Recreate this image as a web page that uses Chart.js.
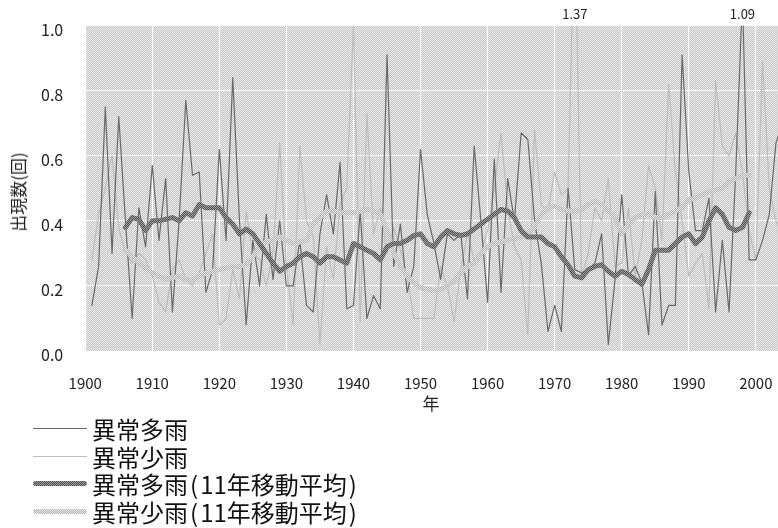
<!DOCTYPE html>
<html lang="ja">
<head>
<meta charset="utf-8">
<script src="https://cdn.jsdelivr.net/npm/chart.js@4/dist/chart.umd.min.js"></script>
<style>
  body { margin: 0; background: #fff; font-family: "Noto Sans CJK JP", sans-serif; }
  #wrap { position: relative; width: 778px; height: 528px; overflow: hidden; }
  #chartBox { position: absolute; left: 0; top: -6px; width: 778px; height: 427px; }
  #legend { position: absolute; left: 33px; top: 415px; font-size: 24px; color: #111; }
  .row { display: flex; align-items: center; height: 27.5px; white-space: nowrap; }
  .swatch { width: 54px; margin-right: 5px; }
  .thin { height: 1px; }
  .thick { height: 5px; border-radius: 3px; }
  .paren { margin: 0 2px; }
  .axisTitle { position: absolute; font-size: 17px; line-height: 20px; color: #222; white-space: nowrap; transform: translate(-50%, -50%); }
  #yTitle { left: 18px; top: 192px; transform: translate(-50%, -50%) rotate(-90deg); }
  #xTitle { left: 431px; top: 403px; }
</style>
</head>
<body>
<div id="wrap">
  <div id="chartBox"><canvas id="rainChart"></canvas></div>
  <div class="axisTitle" id="yTitle">出現数(回)</div>
  <div class="axisTitle" id="xTitle">年</div>
  <div id="legend">
    <div class="row"><div class="swatch thin" style="background:#6a6a6a"></div>異常多雨</div>
    <div class="row"><div class="swatch thin" style="background:#bdbdbd"></div>異常少雨</div>
    <div class="row"><div class="swatch thick" style="background:repeating-conic-gradient(#555 0 25%, #999 0 50%) 0 0/2px 2px"></div>異常多雨<span class="paren">(</span>11年移動平均<span class="paren">)</span></div>
    <div class="row"><div class="swatch thick" style="background:repeating-conic-gradient(#b8b8b8 0 25%, #e4e4e4 0 50%) 0 0/2px 2px"></div>異常少雨<span class="paren">(</span>11年移動平均<span class="paren">)</span></div>
  </div>
</div>
<script>
const years = [
    1901, 1902, 1903, 1904, 1905, 1906, 1907, 1908, 1909, 1910,
    1911, 1912, 1913, 1914, 1915, 1916, 1917, 1918, 1919, 1920,
    1921, 1922, 1923, 1924, 1925, 1926, 1927, 1928, 1929, 1930,
    1931, 1932, 1933, 1934, 1935, 1936, 1937, 1938, 1939, 1940,
    1941, 1942, 1943, 1944, 1945, 1946, 1947, 1948, 1949, 1950,
    1951, 1952, 1953, 1954, 1955, 1956, 1957, 1958, 1959, 1960,
    1961, 1962, 1963, 1964, 1965, 1966, 1967, 1968, 1969, 1970,
    1971, 1972, 1973, 1974, 1975, 1976, 1977, 1978, 1979, 1980,
    1981, 1982, 1983, 1984, 1985, 1986, 1987, 1988, 1989, 1990,
    1991, 1992, 1993, 1994, 1995, 1996, 1997, 1998, 1999, 2000,
    2001, 2002, 2003, 2004
];

// 異常多雨 (annual count)
const heavyRain = [
    0.14, 0.26, 0.75, 0.30, 0.72, 0.40, 0.10, 0.44, 0.32, 0.57,
    0.34, 0.53, 0.12, 0.40, 0.77, 0.54, 0.55, 0.18, 0.25, 0.62,
    0.34, 0.84, 0.40, 0.08, 0.34, 0.20, 0.42, 0.22, 0.40, 0.20,
    0.20, 0.34, 0.14, 0.12, 0.36, 0.48, 0.36, 0.58, 0.13, 0.14,
    0.43, 0.10, 0.17, 0.13, 0.91, 0.26, 0.39, 0.18, 0.26, 0.62,
    0.42, 0.33, 0.22, 0.36, 0.34, 0.36, 0.16, 0.63, 0.40, 0.15,
    0.59, 0.18, 0.53, 0.40, 0.67, 0.65, 0.40, 0.27, 0.06, 0.14,
    0.06, 0.50, 0.25, 0.24, 0.25, 0.27, 0.36, 0.02, 0.22, 0.48,
    0.23, 0.26, 0.21, 0.05, 0.49, 0.08, 0.14, 0.14, 0.91, 0.55,
    0.37, 0.37, 0.47, 0.12, 0.34, 0.12, 0.55, 1.09, 0.28, 0.28,
    0.34, 0.42, 0.64, 0.70
];

// 異常少雨 (annual count)
const lightRain = [
    0.28, 0.42, 0.50, 0.60, 0.38, 0.30, 0.27, 0.30, 0.28, 0.23,
    0.15, 0.12, 0.25, 0.28, 0.22, 0.20, 0.24, 0.30, 0.36, 0.08,
    0.10, 0.25, 0.16, 0.43, 0.30, 0.28, 0.20, 0.30, 0.64, 0.26,
    0.08, 0.63, 0.40, 0.35, 0.02, 0.32, 0.22, 0.45, 0.50, 1.00,
    0.09, 0.73, 0.36, 0.44, 0.30, 0.38, 0.31, 0.23, 0.10, 0.10,
    0.10, 0.10, 0.26, 0.20, 0.09, 0.25, 0.36, 0.28, 0.30, 0.37,
    0.50, 0.67, 0.44, 0.32, 0.28, 0.05, 0.68, 0.45, 0.43, 0.55,
    0.48, 0.50, 1.37, 0.23, 0.30, 0.44, 0.40, 0.53, 0.26, 0.27,
    0.44, 0.23, 0.34, 0.57, 0.50, 0.34, 0.82, 0.55, 0.40, 0.23,
    0.27, 0.30, 0.13, 0.83, 0.63, 0.60, 0.67, 0.55, 0.37, 0.28,
    0.89, 0.50, 0.40, 0.35
];

// 11-year moving averages, 1906-1999 (null at both ends)
const heavyAvg = [
    null, null, null, null, null, 0.38, 0.41, 0.405, 0.37, 0.40,
    0.40, 0.405, 0.41, 0.40, 0.425, 0.415, 0.45, 0.44, 0.44, 0.44,
    0.41, 0.39, 0.36, 0.375, 0.36, 0.33, 0.30, 0.27, 0.245, 0.26,
    0.27, 0.29, 0.30, 0.29, 0.27, 0.29, 0.29, 0.28, 0.27, 0.33,
    0.32, 0.31, 0.30, 0.28, 0.32, 0.33, 0.33, 0.34, 0.355, 0.36,
    0.33, 0.32, 0.35, 0.37, 0.36, 0.355, 0.36, 0.375, 0.39, 0.405,
    0.42, 0.435, 0.43, 0.41, 0.37, 0.35, 0.35, 0.35, 0.33, 0.32,
    0.29, 0.265, 0.23, 0.225, 0.25, 0.26, 0.265, 0.245, 0.23, 0.245,
    0.235, 0.22, 0.205, 0.25, 0.31, 0.31, 0.31, 0.33, 0.35, 0.36,
    0.33, 0.35, 0.40, 0.44, 0.42, 0.38, 0.37, 0.38, 0.425, null,
    null, null, null, null
];

const lightAvg = [
    null, null, null, null, null, 0.31, 0.29, 0.27, 0.255, 0.24,
    0.23, 0.22, 0.225, 0.23, 0.22, 0.215, 0.23, 0.24, 0.245, 0.25,
    0.255, 0.26, 0.26, 0.265, 0.29, 0.32, 0.335, 0.34, 0.35, 0.34,
    0.33, 0.335, 0.34, 0.39, 0.41, 0.43, 0.43, 0.425, 0.425, 0.425,
    0.43, 0.435, 0.43, 0.42, 0.37, 0.30, 0.26, 0.23, 0.21, 0.195,
    0.19, 0.185, 0.19, 0.20, 0.215, 0.24, 0.26, 0.27, 0.30, 0.32,
    0.33, 0.335, 0.34, 0.345, 0.35, 0.36, 0.38, 0.42, 0.44, 0.445,
    0.435, 0.43, 0.43, 0.435, 0.45, 0.46, 0.45, 0.43, 0.41, 0.36,
    0.39, 0.41, 0.42, 0.42, 0.41, 0.41, 0.42, 0.43, 0.44, 0.465,
    0.47, 0.48, 0.49, 0.495, 0.50, 0.52, 0.53, 0.54, 0.54, null,
    null, null, null, null
];

const yearTicks = [1900, 1910, 1920, 1930, 1940, 1950, 1960, 1970, 1980, 1990, 2000];
const countTicks = [0, 0.2, 0.4, 0.6, 0.8, 1.0];

const font = "'Noto Sans CJK JP', sans-serif";

function checker(c1, c2) {
    const p = document.createElement("canvas");
    p.width = 2; p.height = 2;
    const g = p.getContext("2d");
    g.fillStyle = c1; g.fillRect(0, 0, 2, 2);
    g.fillStyle = c2; g.fillRect(0, 0, 1, 1); g.fillRect(1, 1, 1, 1);
    return g.createPattern(p, "repeat");
}

const toPoints = arr => arr.map((v, i) => ({ x: years[i], y: v }));

// hatched grey plot area
const plotBg = {
    id: "plotBg",
    beforeDraw(chart) {
        const { ctx, chartArea: a } = chart;
        ctx.save();
        ctx.fillStyle = checker("#c9c9c9", "#e8e8e8");
        ctx.fillRect(a.left, a.top, a.right - a.left, a.bottom - a.top);
        ctx.restore();
    }
};

// values that run off the top get their number printed above the plot
const peakLabels = {
    id: "peakLabels",
    afterDatasetsDraw(chart) {
        const { ctx, chartArea, scales } = chart;
        ctx.save();
        ctx.font = "13px " + font;
        ctx.fillStyle = "#222";
        ctx.textAlign = "center";
        ctx.textBaseline = "middle";
        [heavyRain, lightRain].forEach(series => {
            series.forEach((v, i) => {
                if (v > scales.y.max) {
                    ctx.fillText(v.toFixed(2), scales.x.getPixelForValue(years[i]), chartArea.top - 12);
                }
            });
        });
        ctx.restore();
    }
};

new Chart(document.getElementById("rainChart"), {
    type: "line",
    data: {
        datasets: [
            { label: "異常多雨(11年移動平均)", data: toPoints(heavyAvg), borderColor: checker("#555555", "#9a9a9a"), borderWidth: 5, order: 0 },
            { label: "異常少雨(11年移動平均)", data: toPoints(lightAvg), borderColor: checker("#b5b5b5", "#e2e2e2"), borderWidth: 5, order: 1 },
            { label: "異常多雨", data: toPoints(heavyRain), borderColor: "#6a6a6a", borderWidth: 1.2, order: 2 },
            { label: "異常少雨", data: toPoints(lightRain), borderColor: "#bdbdbd", borderWidth: 1.2, order: 3 }
        ]
    },
    options: {
        responsive: true,
        maintainAspectRatio: false,
        animation: false,
        layout: { padding: { top: 3, right: 0, left: 19, bottom: 6 } },
        elements: {
            point: { radius: 0 },
            line: { tension: 0, fill: false, borderCapStyle: "round", borderJoinStyle: "round" }
        },
        plugins: { legend: { display: false }, tooltip: { enabled: false } },
        scales: {
            x: {
                type: "linear",
                min: 1900,
                max: 2003.3,
                afterBuildTicks: axis => { axis.ticks = yearTicks.map(v => ({ value: v })); },
                afterFit: axis => { axis.paddingRight = 0; },
                ticks: { callback: v => String(v), font: { family: font, size: 15 }, color: "#222", padding: 23, maxRotation: 0 },
                grid: { color: "#ffffff", lineWidth: 1, drawTicks: false },
                border: { display: false }
            },
            y: {
                min: 0,
                max: 1,
                afterBuildTicks: axis => { axis.ticks = countTicks.map(v => ({ value: v })); },
                ticks: { callback: v => v.toFixed(1), font: { family: font, size: 16 }, color: "#222", padding: 22, labelOffset: 4 },
                grid: { color: "#ffffff", lineWidth: 1, drawTicks: false },
                border: { display: false }
            }
        }
    },
    plugins: [plotBg, peakLabels]
});
</script>
</body>
</html>
